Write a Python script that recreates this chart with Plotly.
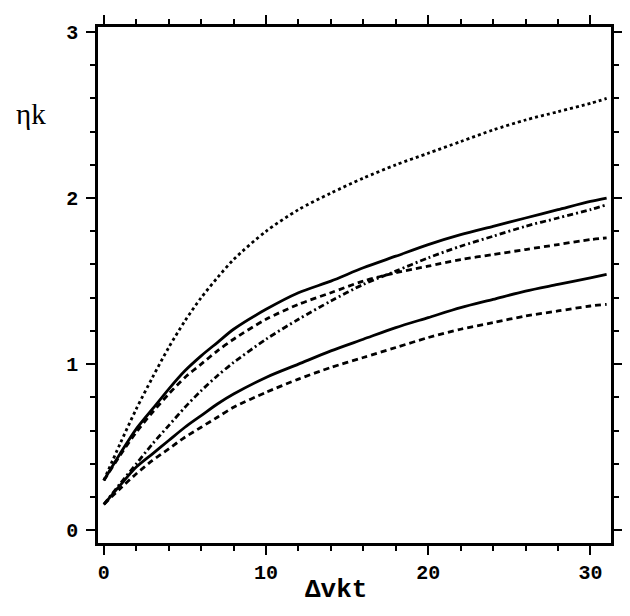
import plotly.graph_objects as go

x = [0, 1, 2, 3, 4, 5, 6, 7, 8, 10, 12, 14, 16, 18, 20, 22, 24, 26, 28, 30, 31]

dotted_top = [0.30, 0.52, 0.73, 0.92, 1.10, 1.26, 1.40, 1.52, 1.63, 1.80, 1.93, 2.03, 2.12, 2.20, 2.27, 2.34, 2.41, 2.47, 2.52, 2.57, 2.60]
solid_upper = [0.30, 0.46, 0.61, 0.73, 0.85, 0.96, 1.05, 1.13, 1.21, 1.33, 1.43, 1.50, 1.58, 1.65, 1.72, 1.78, 1.83, 1.88, 1.93, 1.98, 2.00]
dashed_upper = [0.30, 0.45, 0.59, 0.71, 0.82, 0.92, 1.00, 1.08, 1.15, 1.27, 1.36, 1.43, 1.50, 1.55, 1.59, 1.63, 1.66, 1.69, 1.72, 1.75, 1.76]
dashdot_mid = [0.155, 0.28, 0.40, 0.52, 0.63, 0.74, 0.84, 0.93, 1.01, 1.15, 1.27, 1.38, 1.48, 1.56, 1.64, 1.71, 1.77, 1.83, 1.88, 1.93, 1.96]
solid_lower = [0.155, 0.27, 0.38, 0.46, 0.54, 0.62, 0.69, 0.76, 0.82, 0.92, 1.00, 1.08, 1.15, 1.22, 1.28, 1.34, 1.39, 1.44, 1.48, 1.52, 1.54]
dashed_lower = [0.155, 0.25, 0.34, 0.42, 0.49, 0.56, 0.62, 0.68, 0.74, 0.83, 0.91, 0.98, 1.04, 1.10, 1.16, 1.21, 1.25, 1.29, 1.32, 1.35, 1.36]

x_ticks = [0, 10, 20, 30]
y_ticks = [0, 1, 2, 3]

series = [
    (dotted_top, "dot"),
    (solid_upper, "solid"),
    (dashed_upper, "6px,4px"),
    (dashdot_mid, "6px,3px,2px,3px"),
    (solid_lower, "solid"),
    (dashed_lower, "6px,4px"),
]

fig = go.Figure()
for ys, dash in series:
    fig.add_trace(go.Scatter(
        x=x, y=ys, mode="lines",
        line=dict(color="black", width=2.8, dash=dash, shape="spline", smoothing=0.8),
        showlegend=False, hoverinfo="skip",
    ))

tickfont = dict(family="Liberation Mono", size=20, color="black", weight="bold")

fig.update_xaxes(
    range=[-0.36, 31.27], tickvals=x_ticks, ticktext=[str(v) for v in x_ticks],
    showgrid=False, zeroline=False, showline=True, linecolor="black", linewidth=2.5,
    mirror="allticks", ticks="outside", ticklen=9, tickwidth=2, tickcolor="black",
    minor=dict(dtick=2, tick0=0, ticks="outside", ticklen=5, tickwidth=1.5, tickcolor="black", showgrid=False),
    tickfont=tickfont,
)
fig.update_yaxes(
    range=[-0.077, 3.03], tickvals=y_ticks, ticktext=[str(v) for v in y_ticks],
    showgrid=False, zeroline=False, showline=True, linecolor="black", linewidth=2.5,
    mirror="allticks", ticks="outside", ticklen=9, tickwidth=2, tickcolor="black",
    minor=dict(dtick=0.2, tick0=0, ticks="outside", ticklen=5, tickwidth=1.5, tickcolor="black", showgrid=False),
    tickfont=tickfont, ticklabelstandoff=4,
)

fig.add_annotation(
    text="ηk", xref="paper", yref="paper", x=-0.13, y=0.832,
    xanchor="center", yanchor="middle",
    showarrow=False, font=dict(family="Liberation Serif", size=29, color="black"),
)
fig.add_annotation(
    text="Δvkt", xref="paper", yref="paper", x=0.463, y=-0.092,
    xanchor="center", yanchor="middle",
    showarrow=False, font=dict(family="Liberation Mono", size=26, color="black", weight="bold"),
)

# the page body keeps its default 8px margin, so the figure is sized to fit the window
fig.update_layout(
    width=622, height=608,
    margin=dict(l=90, r=7, t=11, b=73),
    plot_bgcolor="white", paper_bgcolor="white",
)

fig.write_html("out.html")
